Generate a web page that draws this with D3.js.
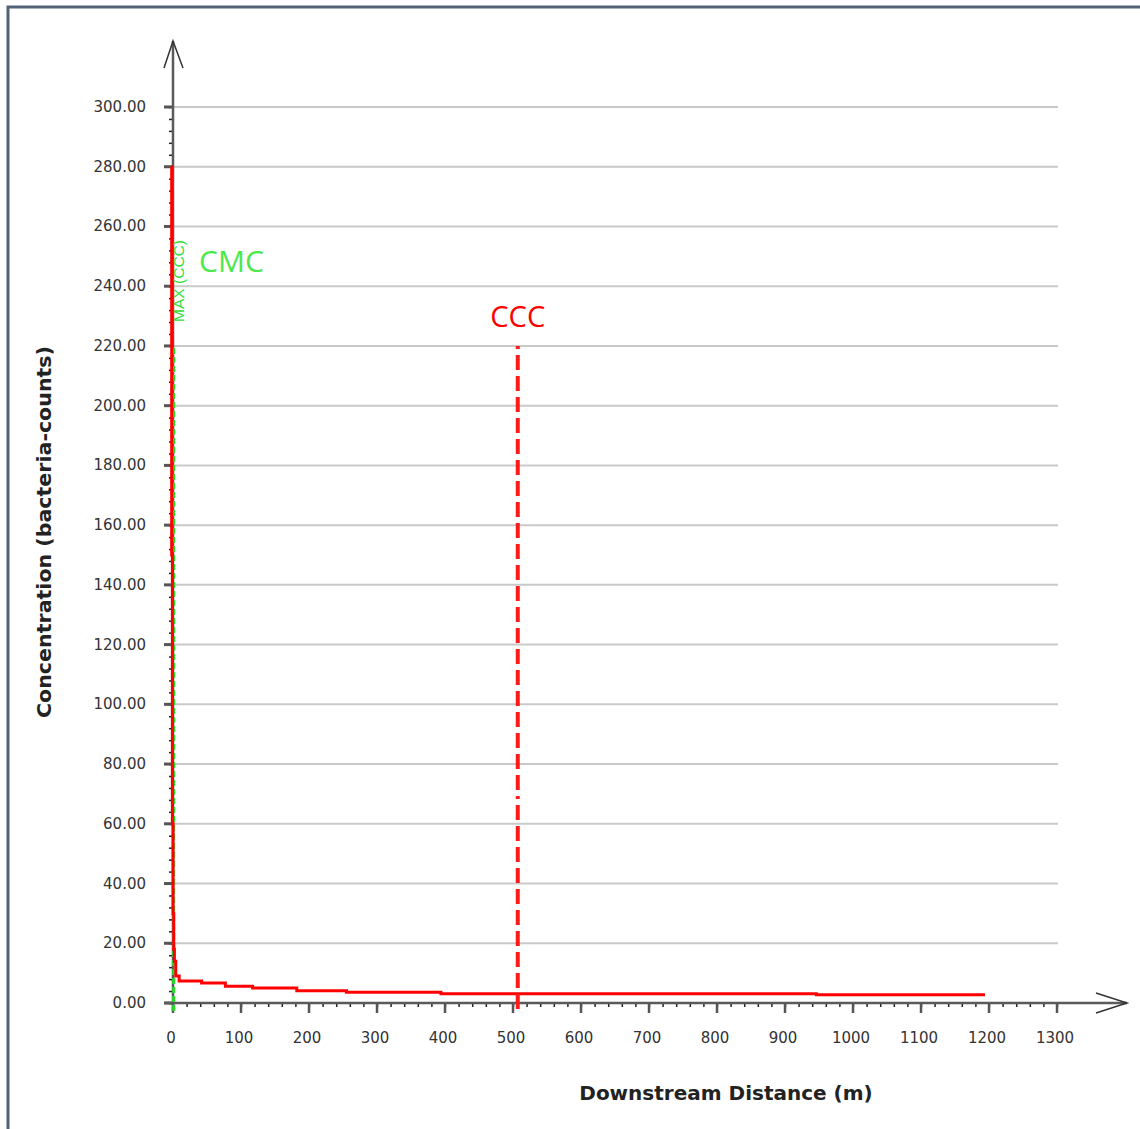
<!DOCTYPE html>
<html>
<head>
<meta charset="utf-8">
<script src="https://cdn.jsdelivr.net/npm/d3@7"></script>
<style>
  body { margin: 0; background: #fff; }
  svg { display: block; }
</style>
</head>
<body>
<svg width="1140" height="1129"></svg>
<script>
// concentration profile (step-like model output)
var distance = [0, 1, 2, 3, 4, 5, 7, 12, 45, 80, 120, 185, 258, 397, 949, 1197];
var concentration = [280, 150, 60, 30, 18, 14, 9, 7.4, 6.7, 5.6, 5.0, 4.1, 3.6, 3.1, 2.8, 2.8];

var yTicks = [0, 20, 40, 60, 80, 100, 120, 140, 160, 180, 200, 220, 240, 260, 280, 300];
var xTicks = [0, 100, 200, 300, 400, 500, 600, 700, 800, 900, 1000, 1100, 1200, 1300];

var cmcDist = 1, cmcTop = 220;
var cccDist = 507, cccTop = 220;

var tickFont = "DejaVu Sans, Verdana, sans-serif";

var svg = d3.select("svg");

// frame
svg.append("path")
    .attr("d", "M8,1129 V7 H1140")
    .attr("fill", "none")
    .attr("stroke", "#526379")
    .attr("stroke-width", 3);

var x = d3.scaleLinear().domain([0, 1300]).range([173, 1057]);
var y = d3.scaleLinear().domain([0, 300]).range([1003, 107]);

// grid
svg.append("g")
    .selectAll("line")
    .data(yTicks.filter(function(d) { return d > 0; }))
    .enter().append("line")
    .attr("x1", x(0)).attr("x2", 1058)
    .attr("y1", function(d) { return y(d); })
    .attr("y2", function(d) { return y(d); })
    .attr("stroke", "#c9c9c9")
    .attr("stroke-width", 2);

// y axis
var yAxis = svg.append("g").attr("transform", "translate(" + x(0) + ",0)");
yAxis.call(d3.axisLeft(y)
    .tickValues(d3.range(0, 301, 4))
    .tickSize(4)
    .tickFormat(""))
    .selectAll(".tick line").attr("stroke", "#222").attr("stroke-width", 1.5);
yAxis.select(".domain").remove();
yAxis.selectAll(".major")
    .data(yTicks)
    .enter().append("line")
    .attr("x1", -9).attr("x2", 0)
    .attr("y1", function(d) { return y(d); })
    .attr("y2", function(d) { return y(d); })
    .attr("stroke", "#555")
    .attr("stroke-width", 3);
yAxis.selectAll(".lab")
    .data(yTicks)
    .enter().append("text")
    .attr("x", -27)
    .attr("y", function(d) { return y(d) + 5; })
    .attr("text-anchor", "end")
    .attr("font-family", tickFont)
    .attr("font-size", 15)
    .attr("fill", "#333")
    .text(function(d) { return d.toFixed(2); });

// x axis
var xAxis = svg.append("g").attr("transform", "translate(0," + y(0) + ")");
xAxis.call(d3.axisBottom(x)
    .tickValues(d3.range(0, 1301, 20))
    .tickSize(4)
    .tickFormat(""))
    .selectAll(".tick line").attr("stroke", "#222").attr("stroke-width", 1.5);
xAxis.select(".domain").remove();
xAxis.selectAll(".major")
    .data(xTicks)
    .enter().append("line")
    .attr("x1", function(d) { return x(d); })
    .attr("x2", function(d) { return x(d); })
    .attr("y1", 0).attr("y2", 10)
    .attr("stroke", "#555")
    .attr("stroke-width", 2.5);
xAxis.selectAll(".lab")
    .data(xTicks)
    .enter().append("text")
    .attr("x", function(d) { return x(d) - 2; })
    .attr("y", 40)
    .attr("text-anchor", "middle")
    .attr("font-family", tickFont)
    .attr("font-size", 15)
    .attr("fill", "#333")
    .text(function(d) { return d; });

// axis lines with open arrowheads
var axisColor = "#5a5a5a";
svg.append("line")
    .attr("x1", x(0)).attr("x2", x(0))
    .attr("y1", y(0) + 8).attr("y2", 41)
    .attr("stroke", axisColor).attr("stroke-width", 2.5);
svg.append("path")
    .attr("d", "M" + (x(0) - 9) + ",68 L" + x(0) + ",41 L" + (x(0) + 10) + ",68")
    .attr("fill", "none").attr("stroke", "#333").attr("stroke-width", 1.5);
svg.append("line")
    .attr("x1", x(0) - 8).attr("x2", 1127)
    .attr("y1", y(0)).attr("y2", y(0))
    .attr("stroke", axisColor).attr("stroke-width", 2.5);
svg.append("path")
    .attr("d", "M1096," + (y(0) - 10) + " L1127," + y(0) + " L1096," + (y(0) + 10))
    .attr("fill", "none").attr("stroke", "#333").attr("stroke-width", 1.5);

// CMC marker
svg.append("line")
    .attr("x1", x(cmcDist)).attr("x2", x(cmcDist))
    .attr("y1", y(0) + 8).attr("y2", y(cmcTop))
    .attr("stroke", "#22dd22")
    .attr("stroke-width", 3)
    .attr("stroke-dasharray", "6,3");
svg.append("text")
    .attr("transform", "translate(" + (x(cmcDist) + 10) + ",322) rotate(-90)")
    .attr("font-family", "Liberation Sans, Arial, sans-serif")
    .attr("font-size", 14)
    .attr("textLength", 82)
    .attr("lengthAdjust", "spacingAndGlyphs")
    .attr("fill", "#33dd33")
    .text("MAX (CCC)");
svg.append("text")
    .attr("x", 199).attr("y", 272)
    .attr("font-family", "Open Sans, Noto Sans, sans-serif")
    .attr("font-size", 30)
    .attr("fill", "#4be84b")
    .text("CMC");

// concentration profile
var line = d3.line()
    .x(function(d, i) { return x(distance[i]) - 2; })
    .y(function(d) { return y(d); })
    .curve(d3.curveStepAfter);
svg.append("path")
    .datum(concentration)
    .attr("d", line)
    .attr("fill", "none")
    .attr("stroke", "#ff0000")
    .attr("stroke-width", 3);

// CCC marker
svg.append("line")
    .attr("x1", x(cccDist)).attr("x2", x(cccDist))
    .attr("y1", y(cccTop)).attr("y2", y(0) + 9)
    .attr("stroke", "#ff1a1a")
    .attr("stroke-width", 4)
    .attr("stroke-dasharray", "3,6,15,6,15,6,15,6,15,6,15,6,15,6,15,6,15,6,15,6,15,6,15,6,15,6,15,6,15,6,15,6,15,6,15,6,15,6,15,6,15,6,15,6");
svg.append("text")
    .attr("x", x(cccDist)).attr("y", 327)
    .attr("text-anchor", "middle")
    .attr("font-family", "Open Sans, Noto Sans, sans-serif")
    .attr("font-size", 29)
    .attr("fill", "#ff0000")
    .text("CCC");

// axis titles
svg.append("text")
    .attr("transform", "translate(51,532) rotate(-90)")
    .attr("text-anchor", "middle")
    .attr("font-family", "DejaVu Sans, Verdana, sans-serif")
    .attr("font-weight", "bold")
    .attr("font-size", 20)
    .attr("textLength", 372)
    .attr("lengthAdjust", "spacingAndGlyphs")
    .attr("fill", "#222")
    .text("Concentration (bacteria-counts)");
svg.append("text")
    .attr("x", 726).attr("y", 1100)
    .attr("text-anchor", "middle")
    .attr("font-family", "DejaVu Sans, Verdana, sans-serif")
    .attr("font-weight", "bold")
    .attr("font-size", 20)
    .attr("fill", "#222")
    .text("Downstream Distance (m)");
</script>
</body>
</html>
